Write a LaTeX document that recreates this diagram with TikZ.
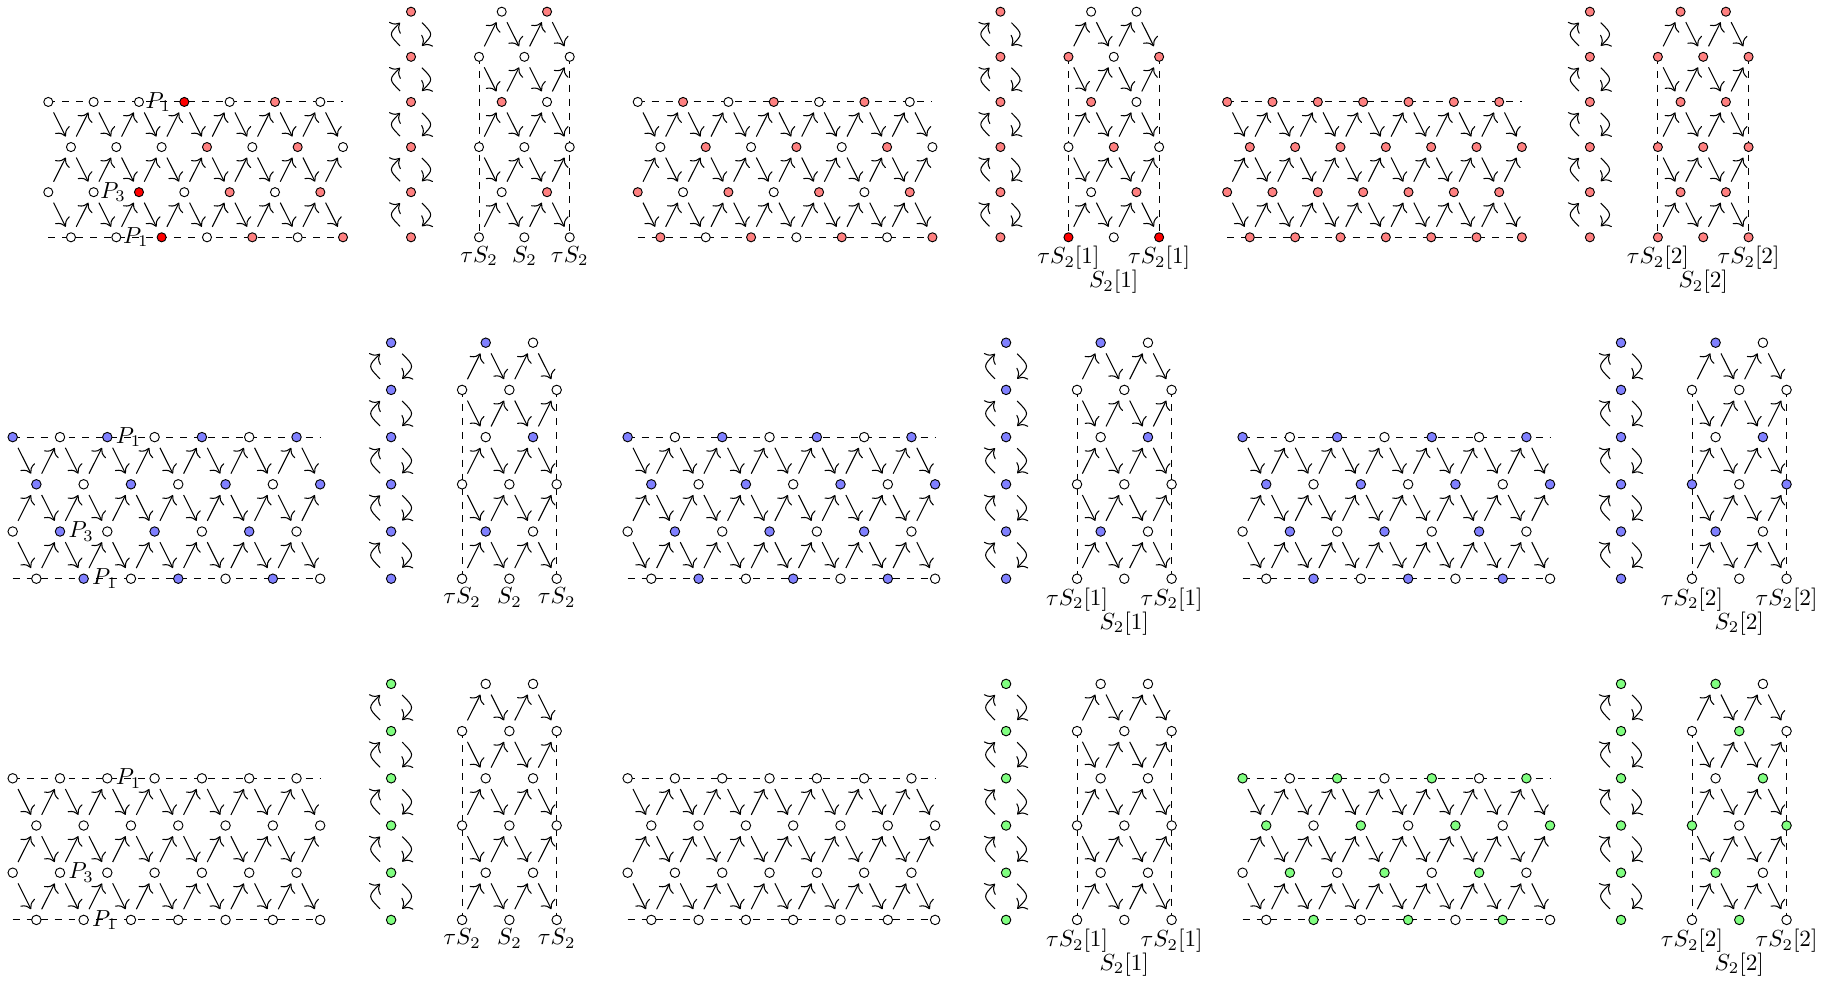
\documentclass[tikz,border=0pt]{standalone}
\usetikzlibrary{arrows.meta}
\pgfdeclarelayer{bg}
\pgfsetlayers{bg,main}
\colorlet{lred}{red!50}
\colorlet{lblue}{blue!50}
\colorlet{lgreen}{green!50}
\def\allkw{all}
\def\nsize{3.9pt}
\makeatletter
\newcommand\setfill[4]{%
  \def\nfill{white}%
  \def\tmpa{#2}%
  \ifx\tmpa\allkw \def\nfill{#4}%
  \else
    \edef\tmpb{\noexpand\in@{,#1,}{,#2,}}\tmpb
    \ifin@ \def\nfill{#4}\fi
  \fi
  \edef\tmpb{\noexpand\in@{,#1,}{,#3,}}\tmpb
  \ifin@ \def\nfill{red}\fi
}
\makeatother
\tikzset{
  qn/.style={circle, draw, inner sep=0pt, minimum size=\nsize},
  arr/.style={-{To[scale=1.3]}, line width=0.45pt, shorten <=2.9pt, shorten >=2.9pt},
  larr/.style={-{To[scale=1.3]}, line width=0.45pt, shorten <=4.5pt, shorten >=4.5pt, bend left=45, looseness=1.8},
  dl/.style={dashed},
  tlab/.style={inner sep=1.5pt, anchor=north},
  plab/.style={anchor=east},
}
\newcommand\drawstrip[6]{%
  \foreach \r in {0,...,3}{%
    \foreach \i in {0,...,13}{%
      \ifodd\numexpr\i+\r\relax\else
        \setfill{\i/\r}{#4}{#5}{#6}%
        \node[qn, fill=\nfill] (#1-\i-\r) at ({#2+\i},{#3+2*\r}) {};
      \fi
    }%
  }%
  \coordinate (#1-13-0) at ({#2+13},{#3});
  \coordinate (#1-0-3) at ({#2},{#3+6});
  \begin{pgfonlayer}{bg}
    \draw[dl] (#1-0-0.center) -- (#1-13-0);
    \draw[dl] (#1-0-3) -- (#1-13-3.center);
  \end{pgfonlayer}
  \foreach \r in {0,1,2}{%
    \pgfmathtruncatemacro\rr{\r+1}%
    \foreach \i in {0,...,12}{%
      \pgfmathtruncatemacro\ii{\i+1}%
      \ifodd\numexpr\i+\r\relax
        \draw[arr] (#1-\i-\rr) -- (#1-\ii-\r);
      \else
        \draw[arr] (#1-\i-\r) -- (#1-\ii-\rr);
      \fi
    }%
  }%
}
\newcommand\drawloops[4]{%
  \foreach \m in {0,...,5}{%
    \node[qn, fill=#4] (#1-\m) at ({#2},{#3+2*\m}) {};
  }%
  \foreach \m in {0,...,4}{%
    \pgfmathtruncatemacro\mm{\m+1}%
    \draw[larr] (#1-\mm) to (#1-\m);
    \draw[larr] (#1-\m) to (#1-\mm);
  }%
}
\newcommand\drawtube[6]{%
  \foreach \r in {0,...,5}{%
    \foreach \j in {0,...,4}{%
      \ifodd\numexpr\j+\r\relax
        \setfill{\j/\r}{#4}{#5}{#6}%
        \node[qn, fill=\nfill] (#1-\j-\r) at ({#2+\j},{#3+2*\r}) {};
      \fi
    }%
  }%
  \begin{pgfonlayer}{bg}
    \draw[dl] (#1-0-1.center) -- (#1-0-5.center);
    \draw[dl] (#1-4-1.center) -- (#1-4-5.center);
  \end{pgfonlayer}
  \foreach \r in {0,...,4}{%
    \pgfmathtruncatemacro\rr{\r+1}%
    \foreach \j in {0,...,3}{%
      \pgfmathtruncatemacro\jj{\j+1}%
      \ifodd\numexpr\j+\r\relax
        \draw[arr] (#1-\j-\r) -- (#1-\jj-\rr);
      \else
        \draw[arr] (#1-\j-\rr) -- (#1-\jj-\r);
      \fi
    }%
  }%
}
\newcommand\striplabels[1]{%
  \node[plab] (#1-pa) at (#1-6-0.west) {$P_1$};
  \node[plab] (#1-pb) at (#1-4-2.west) {$P_3$};
  \node[plab] (#1-pc) at (#1-5-3.west) {$P_1$};
}
\newcommand\tubelabelsA[1]{%
  \node[tlab] (#1-la) at (#1-0-5.south) {$\tau S_2$};
  \node[tlab] (#1-lb) at (#1-2-5.south) {$S_2$};
  \node[tlab] (#1-lc) at (#1-4-5.south) {$\tau S_2$};
}
\newcommand\tubelabelsB[2]{%
  \node[tlab] (#1-la) at (#1-0-5.south) {$\tau S_2[#2]$};
  \node[tlab, yshift=-10.3pt] (#1-lb) at (#1-2-5.south) {$S_2[#2]$};
  \node[tlab] (#1-lc) at (#1-4-5.south) {$\tau S_2[#2]$};
}
\def\diag{0/0,4/0,8/0,12/0,1/1,5/1,9/1,13/1,2/2,6/2,10/2,3/3,7/3,11/3}
\begin{document}
\begin{tikzpicture}[x=0.43pt,y=-0.43pt]
\useasboundingbox (0,0) rectangle (1836,981);
% ---------------- row 1 (red)
\begin{scope}[shift={(48.3,11.7)}, x=9.748pt, y=-9.70pt]
\drawstrip{s11}{0}{4}{10/0,7/1,11/1,8/2,12/2,9/3,13/3}{6/0,4/2,5/3}{lred}
\striplabels{s11}
\drawloops{l11}{16}{0}{lred}
\drawtube{t11}{19}{0}{3/0,1/2,3/4}{}{lred}
\tubelabelsA{t11}
\drawstrip{s12}{26}{4}{2/0,6/0,10/0,3/1,7/1,11/1,0/2,4/2,8/2,12/2,1/3,5/3,9/3,13/3}{}{lred}
\drawloops{l12}{42}{0}{lred}
\drawtube{t12}{45}{0}{0/1,4/1,1/2,2/3,3/4}{0/5,4/5}{lred}
\tubelabelsB{t12}{1}
\drawstrip{s13}{52}{4}{all}{}{lred}
\drawloops{l13}{68}{0}{lred}
\drawtube{t13}{71}{0}{all}{}{lred}
\tubelabelsB{t13}{2}
\end{scope}
% ---------------- row 2 (blue)
\begin{scope}[shift={(12.7,342.7)}, x=10.17pt, y=-10.148pt,
  nodes={font=\fontsize{10.43pt}{12.5pt}\selectfont}]
\def\nsize{4.07pt}
\drawstrip{s21}{0}{4}{\diag}{}{lblue}
\striplabels{s21}
\drawloops{l21}{16}{0}{lblue}
\drawtube{t21}{19}{0}{1/0,3/2,1/4}{}{lblue}
\tubelabelsA{t21}
\drawstrip{s22}{26}{4}{\diag}{}{lblue}
\drawloops{l22}{42}{0}{lblue}
\drawtube{t22}{45}{0}{1/0,3/2,1/4}{}{lblue}
\tubelabelsB{t22}{1}
\drawstrip{s23}{52}{4}{\diag}{}{lblue}
\drawloops{l23}{68}{0}{lblue}
\drawtube{t23}{71}{0}{1/0,3/2,0/3,4/3,1/4}{}{lblue}
\tubelabelsB{t23}{2}
\end{scope}
% ---------------- row 3 (green)
\begin{scope}[shift={(12.7,683.9)}, x=10.17pt, y=-10.148pt,
  nodes={font=\fontsize{10.43pt}{12.5pt}\selectfont}]
\def\nsize{4.07pt}
\drawstrip{s31}{0}{4}{}{}{lgreen}
\striplabels{s31}
\drawloops{l31}{16}{0}{lgreen}
\drawtube{t31}{19}{0}{}{}{lgreen}
\tubelabelsA{t31}
\drawstrip{s32}{26}{4}{}{}{lgreen}
\drawloops{l32}{42}{0}{lgreen}
\drawtube{t32}{45}{0}{}{}{lgreen}
\tubelabelsB{t32}{1}
\drawstrip{s33}{52}{4}{\diag}{}{lgreen}
\drawloops{l33}{68}{0}{lgreen}
\drawtube{t33}{71}{0}{1/0,2/1,3/2,0/3,4/3,1/4,2/5}{}{lgreen}
\tubelabelsB{t33}{2}
\end{scope}
\end{tikzpicture}
\end{document}
